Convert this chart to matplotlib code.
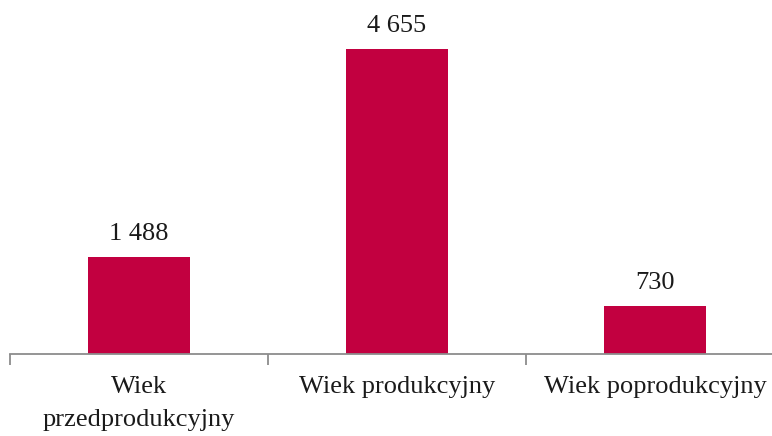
import matplotlib.pyplot as plt
import numpy as np

categories = ['Wiek\nprzedprodukcyjny', 'Wiek produkcyjny', 'Wiek poprodukcyjny']
values = [1488, 4655, 730]
value_labels = ['1 488', '4 655', '730']

plt.rcParams['font.family'] = ['Liberation Serif', 'DejaVu Serif']

fig = plt.figure(figsize=(7.72, 4.36), dpi=100)
# axis line at y=354 px, left end at x=10 px, category width 258 px
ax = fig.add_axes([10 / 772, (436 - 354) / 436, 774 / 772, 340 / 436])

x = np.arange(len(categories))
ax.bar(x, values, width=0.395, color='#C20040', zorder=2)

for xi, v, lab in zip(x, values, value_labels):
    ax.text(xi, v + 180, lab, ha='center', va='bottom', fontsize=19, color='#1a1a1a',
            clip_on=False)

ax.set_xlim(-0.5, 2.5)
ax.set_ylim(0, 4655 * 340 / 305)

for s in ['top', 'right', 'left']:
    ax.spines[s].set_visible(False)
ax.spines['bottom'].set_color('#8c8c8c')
ax.spines['bottom'].set_linewidth(1.3)
ax.set_yticks([])

ax.set_xticks([-0.5, 0.5, 1.5, 2.5])
ax.set_xticklabels([])
ax.tick_params(axis='x', length=8, width=1.3, color='#8c8c8c')
ax.set_xticks(x, minor=True)
ax.set_xticklabels(categories, minor=True, fontsize=19, color='#1a1a1a', linespacing=1.65)
ax.tick_params(axis='x', which='minor', length=0, pad=16)

fig.savefig('out.png', dpi=100)
